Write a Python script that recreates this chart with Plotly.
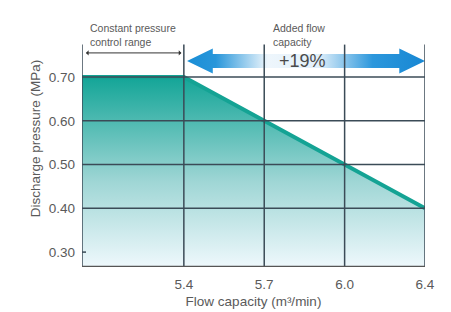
import plotly.graph_objects as go

# ---- data ----
flow_labels = ["5.4", "5.7", "6.0", "6.4"]          # x tick labels (equal spacing)
flow_pos = [0, 1, 2, 3]                              # category positions
pressure = [0.70, 0.60, 0.50, 0.40]                  # MPa at each flow
const_pressure = 0.70
y_ticks = [0.30, 0.40, 0.50, 0.60, 0.70]
y_tick_text = ["0.30", "0.40", "0.50", "0.60", "0.70"]
grid_y = [0.40, 0.50, 0.60, 0.70]
added_pct = "+19%"

# ---- axis geometry ----
x_min, x_max = -1.267, 3.0
y_min, y_max = 0.266, 0.853
line_top = 0.774
grid_col = "#3b4b57"
txt = "#5a5a5a"
font = "Liberation Sans, Arial, sans-serif"

xs = [x_min] + flow_pos
ys = [const_pressure] + pressure

fig = go.Figure()

# gradient fill under curve
fig.add_trace(go.Scatter(
    x=xs, y=ys, mode="lines", fill="tozeroy",
    line=dict(width=0, color="rgba(0,0,0,0)"),
    fillgradient=dict(type="vertical", start=y_min, stop=const_pressure,
                      colorscale=[[0, "#eef8fc"], [0.45, "#9fd6d5"], [1, "#13a597"]]),
    hoverinfo="skip", showlegend=False))
# teal curve
fig.add_trace(go.Scatter(
    x=xs, y=ys, mode="lines", line=dict(width=4, color="#14a394"),
    showlegend=False))

# big double arrow (added flow capacity)
cy, bh, hh, hl = 0.7366, 0.016, 0.0286, 0.32
ax0, ax1 = flow_pos[0] + 0.04, flow_pos[-1]
arr_x = [ax0, ax0 + hl, ax0 + hl, ax1 - hl, ax1 - hl, ax1, ax1 - hl, ax1 - hl, ax0 + hl, ax0 + hl, ax0]
arr_y = [cy, cy + hh, cy + bh, cy + bh, cy + hh, cy, cy - hh, cy - bh, cy - bh, cy - hh, cy]
fig.add_trace(go.Scatter(
    x=arr_x, y=arr_y, mode="lines", fill="toself",
    line=dict(width=0, color="rgba(0,0,0,0)"),
    fillgradient=dict(type="horizontal",
                      colorscale=[[0, "#1a8ed6"], [0.12, "#2896da"], [0.34, "#eef6fc"],
                                  [0.55, "#e2f0fa"], [0.78, "#2c97dc"], [1, "#1787d3"]]),
    hoverinfo="skip", showlegend=False))

shapes = []
# horizontal gridlines
for gy in grid_y:
    shapes.append(dict(type="line", xref="x", yref="y", x0=x_min, x1=x_max, y0=gy, y1=gy,
                       line=dict(color=grid_col, width=1.5), layer="above"))
# vertical lines at each flow tick and left axis
for gx in [x_min] + flow_pos:
    shapes.append(dict(type="line", xref="x", yref="y", x0=gx, x1=gx, y0=y_min, y1=line_top,
                       line=dict(color=grid_col, width=1.5), layer="above"))
# bottom axis
shapes.append(dict(type="line", xref="x", yref="y", x0=x_min, x1=x_max, y0=y_min, y1=y_min,
                   line=dict(color="#555555", width=2.5), layer="above"))
# tick at 0.30
shapes.append(dict(type="line", xref="x", yref="y", x0=x_min, x1=x_min + 0.05, y0=0.30, y1=0.30,
                   line=dict(color=grid_col, width=1.5), layer="above"))

annotations = [
    dict(x=x_min + 0.07, y=0.797, xref="x", yref="y", xanchor="left", yanchor="middle",
         text="Constant pressure<br>control range", showarrow=False, align="left",
         font=dict(size=10.5, color=txt, family=font)),
    dict(x=1.09, y=0.797, xref="x", yref="y", xanchor="left", yanchor="middle",
         text="Added flow<br>capacity", showarrow=False, align="left",
         font=dict(size=10.5, color=txt, family=font)),
    dict(x=1.48, y=cy, xref="x", yref="y", xanchor="center", yanchor="middle",
         text=added_pct, showarrow=False,
         font=dict(size=18, color="#4a4a4a", family=font)),
    dict(x=flow_pos[0] - 0.03, y=0.755, ax=x_min + 0.03, ay=0.755, xref="x", yref="y",
         axref="x", ayref="y", text="", showarrow=True, arrowhead=1, arrowside="end+start",
         arrowsize=0.9, arrowwidth=1, arrowcolor="#333333"),
]

# page body adds an 8px margin, so the figure is offset by 8px
fig.update_layout(
    width=443, height=304,
    margin=dict(l=74, r=26, t=2, b=45, autoexpand=False),
    paper_bgcolor="white", plot_bgcolor="rgba(0,0,0,0)",
    shapes=shapes, annotations=annotations, showlegend=False,
    font=dict(family=font, color=txt, size=14),
    xaxis=dict(range=[x_min, x_max], tickvals=flow_pos, ticktext=flow_labels,
               showgrid=False, zeroline=False, showline=False, ticks="", automargin=False,
               ticklabelstandoff=7, tickfont=dict(size=13.5, color=txt),
               title=dict(text="Flow capacity (m³/min)", standoff=6,
                          font=dict(size=13.5, color=txt))),
    yaxis=dict(range=[y_min, y_max], tickvals=y_ticks, ticktext=y_tick_text,
               showgrid=False, zeroline=False, showline=False, ticks="", automargin=False,
               ticklabelstandoff=6, tickfont=dict(size=13.5, color=txt),
               title=dict(text="Discharge pressure (MPa)", standoff=4,
                          font=dict(size=13.5, color=txt))),
)

fig.write_html("out.html")
